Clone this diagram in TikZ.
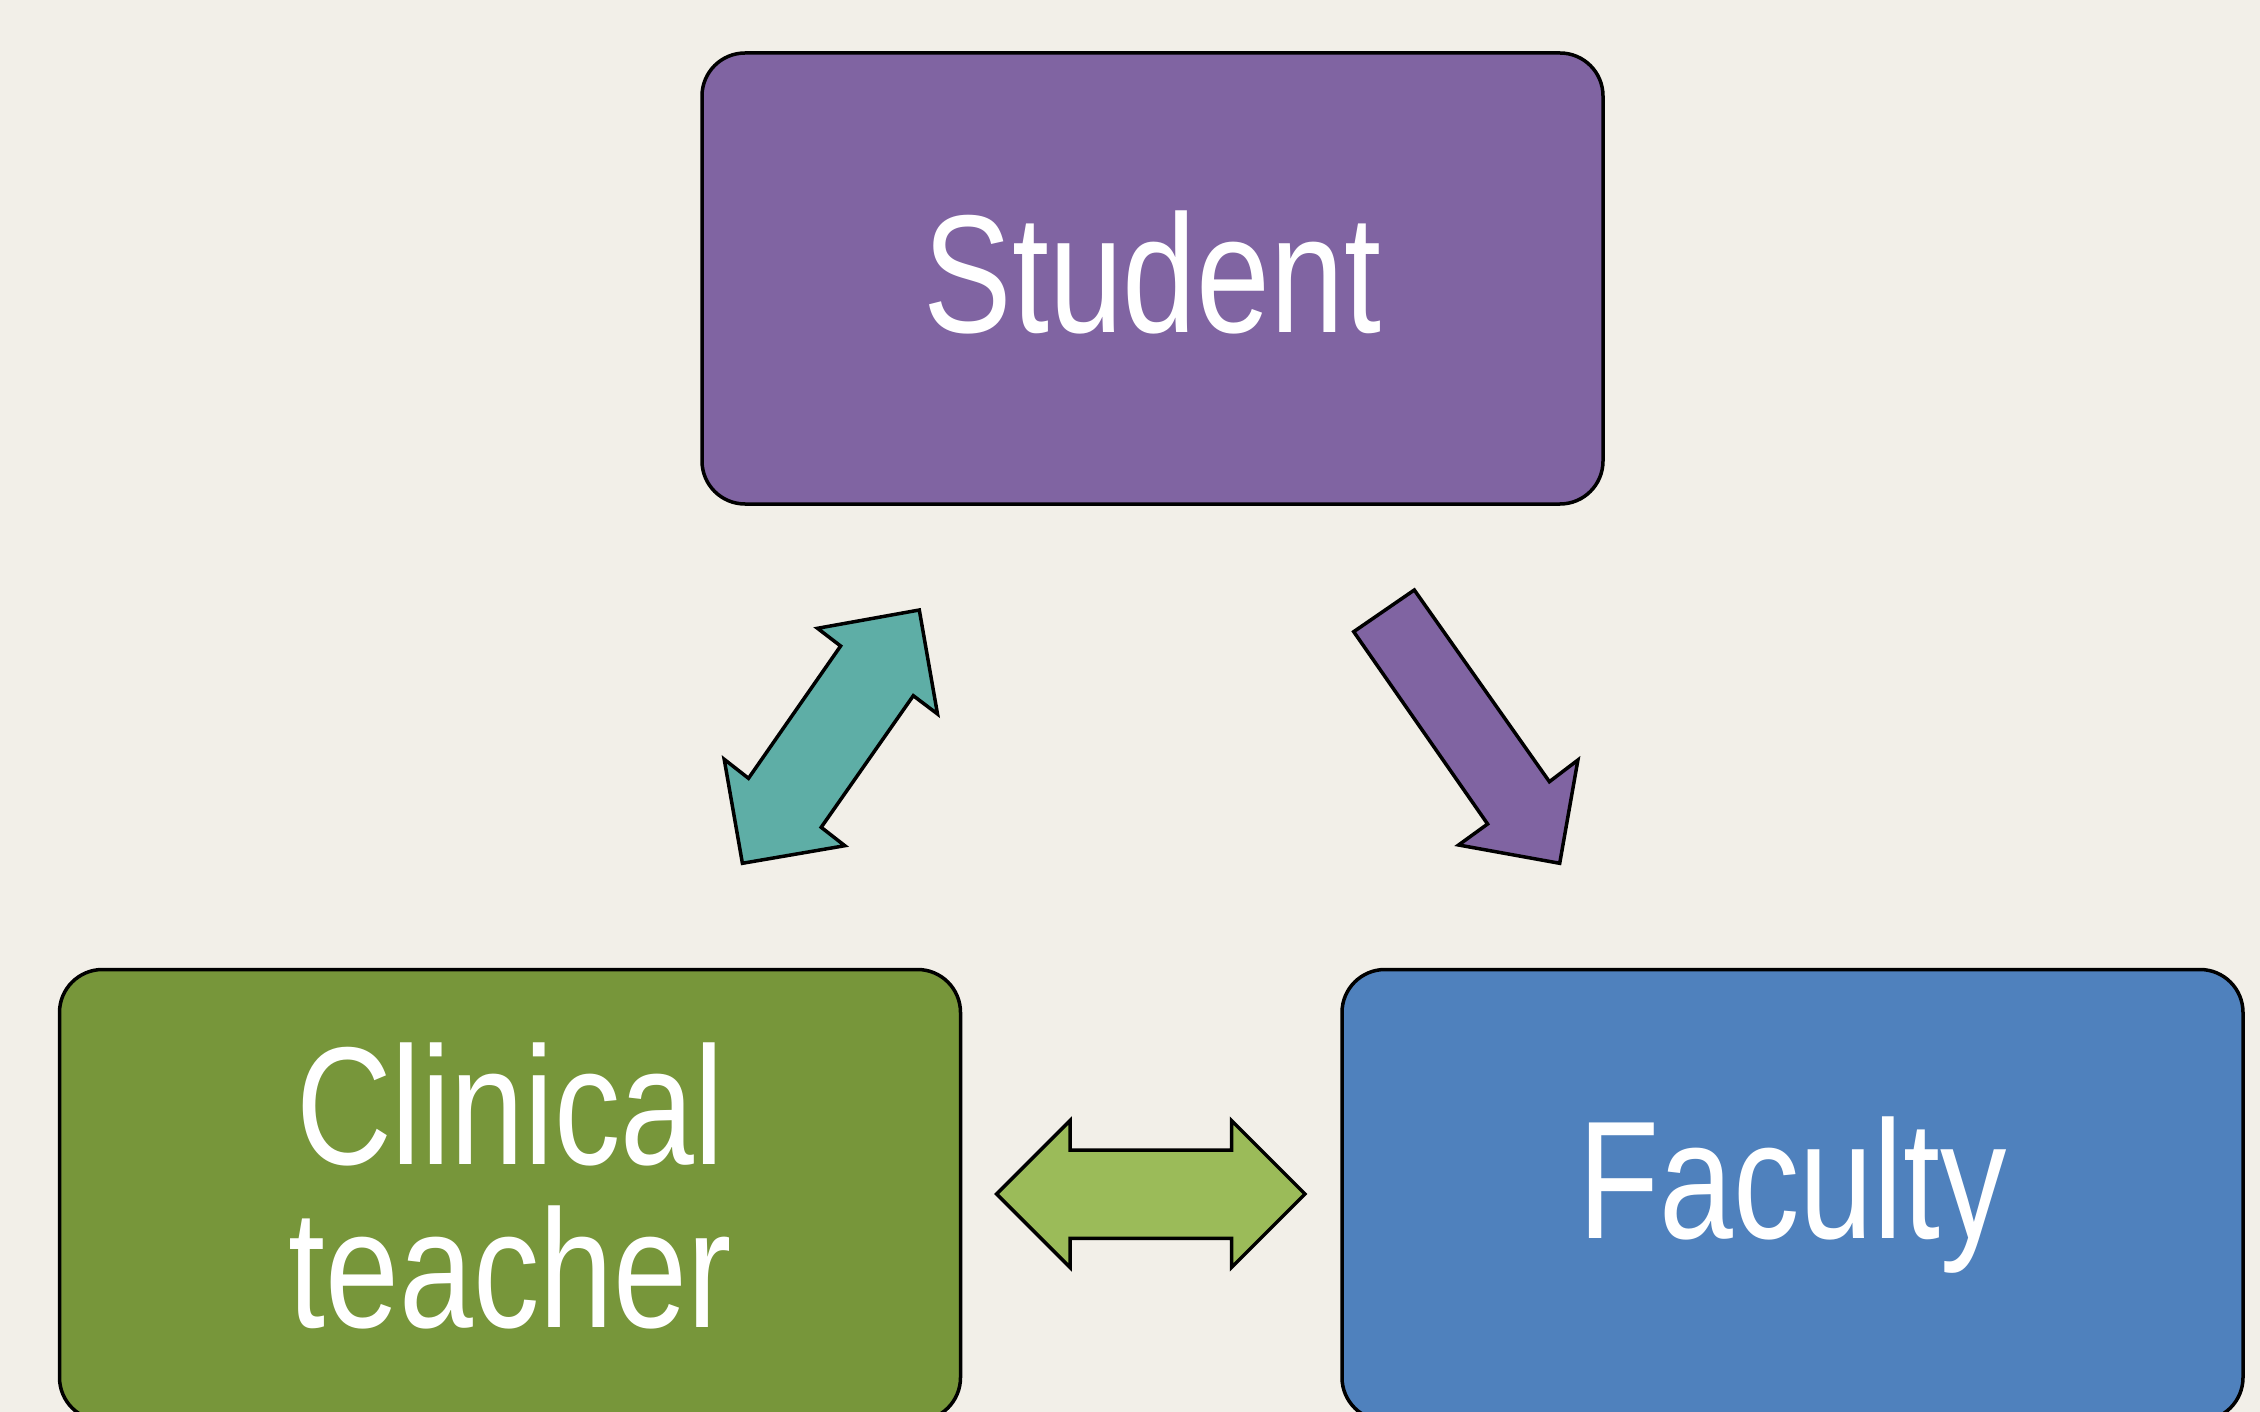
\documentclass[tikz,border=0pt]{standalone}
\usepackage{fontspec}
\setmainfont[FakeStretch=0.79]{Liberation Sans}
\definecolor{bgc}{HTML}{F2EFE8}
\definecolor{stup}{HTML}{8064A2}
\definecolor{clin}{HTML}{77963A}
\definecolor{facb}{HTML}{4F81BD}
\definecolor{teal}{HTML}{5EAEA6}
\definecolor{lgreen}{HTML}{9BBB59}
\tikzset{
  box/.style={draw=black, line width=3.5pt, rounded corners=43pt, minimum width=901pt,
    minimum height=451pt, inner sep=0pt, text=white, align=center,
    font=\fontsize{168}{163}\selectfont},
  blockarrow/.style={draw=black, line width=3.5pt, line join=miter}
}
\begin{document}
\begin{tikzpicture}[x=1pt,y=-1pt]
\useasboundingbox (0,0) rectangle (2260,1412);
\clip (0,0) rectangle (2260,1412);
\fill[bgc] (0,0) rectangle (2260,1412);
\node[box, fill=stup, text depth=13pt] (student) at (1152.5,278.5) {Student};
\node[box, fill=clin, text depth=20pt] (clinical) at (510,1195) {Clinical\\teacher};
\node[box, fill=facb] (faculty) at (1792.5,1195) {Faculty};
% teal double arrow
\draw[blockarrow, fill=teal] (817.5,628.3) -- (919.3,610) -- (937.5,714) -- (913.3,695.7)
  -- (821.2,827.3) -- (844.8,845.7) -- (742.4,863.3) -- (724.2,759.3) -- (748.5,778.3)
  -- (840.6,646) -- cycle;
% purple arrow
\draw[blockarrow, fill=stup] (1353.7,631.7) -- (1414.3,590) -- (1549.4,781.7) -- (1577.9,760)
  -- (1559.7,863.3) -- (1458.6,845) -- (1487.6,824) -- cycle;
% green double arrow
\draw[blockarrow, fill=lgreen] (996.7,1194) -- (1070,1120.7) -- (1070,1150) -- (1231.7,1150)
  -- (1231.7,1120.7) -- (1305,1194) -- (1231.7,1267.3) -- (1231.7,1238.3) -- (1070,1238.3)
  -- (1070,1267.3) -- cycle;
\end{tikzpicture}
\end{document}
